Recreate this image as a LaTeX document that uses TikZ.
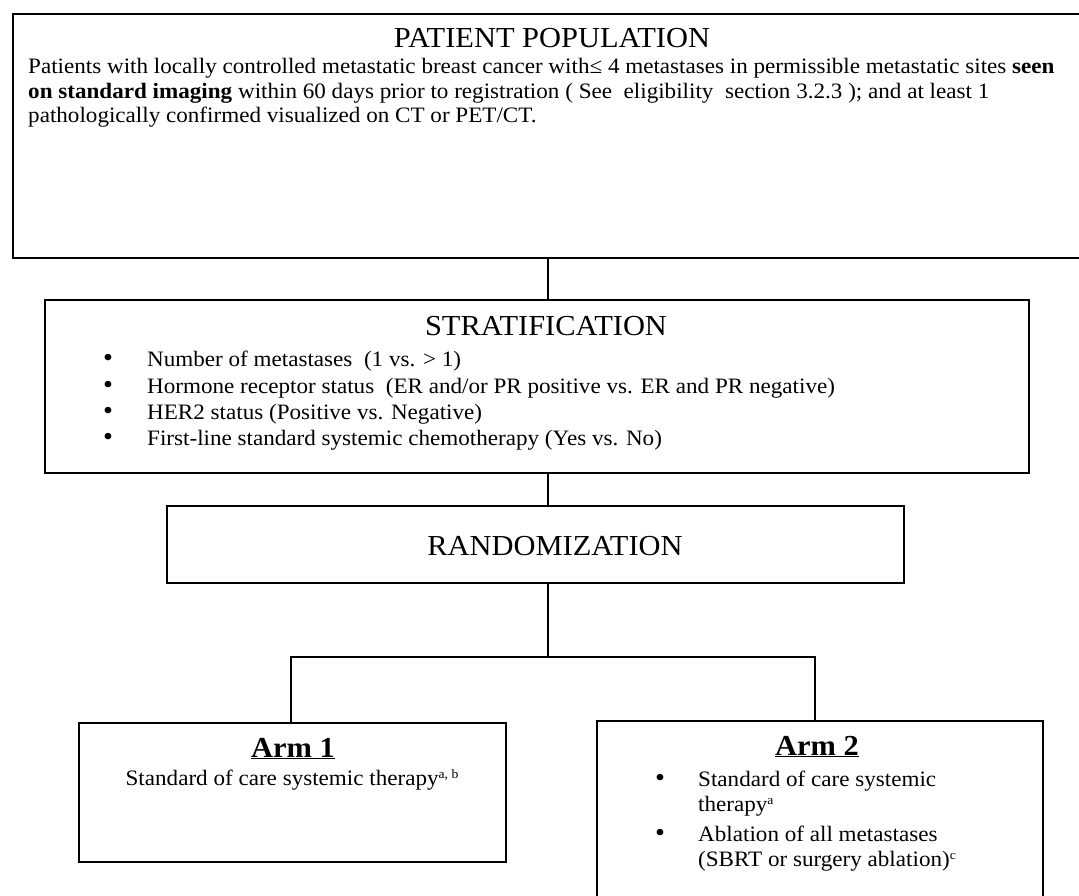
\documentclass[tikz,border=0pt]{standalone}
\usepackage{fontspec}
\setmainfont[FakeStretch=1.05]{Liberation Serif}
\newcommand{\supr}[1]{\raisebox{6.5pt}{\fontsize{13}{13}\selectfont #1}}
\begin{document}
\begin{tikzpicture}[x=1pt,y=-1pt,
  box/.style={draw, line width=1.6pt, inner sep=0pt, anchor=north west},
  conn/.style={draw, line width=1.5pt},
  ttl/.style={font=\fontsize{29}{29}\selectfont, inner sep=0pt, anchor=base},
  ln/.style={font=\fontsize{22}{22}\selectfont, inner sep=0pt, anchor=base west},
  lnc/.style={font=\fontsize{22}{22}\selectfont, inner sep=0pt, anchor=base},
  bul/.style={font=\fontsize{27}{27}\selectfont, inner sep=0pt, anchor=base}]
\useasboundingbox (0,0) rectangle (1079,896);
\clip (0,0) rectangle (1079,896);
% boxes
\node[box, minimum width=1090pt, minimum height=244pt] (pp) at (12,13) {};
\node[box, minimum width=984pt, minimum height=173pt] (strat) at (44,299) {};
\node[box, minimum width=737pt, minimum height=77pt] (rand) at (166,505) {};
\node[box, minimum width=427pt, minimum height=139pt] (arm1) at (78,722) {};
\node[box, minimum width=446pt, minimum height=200pt] (arm2) at (596,720) {};
% connectors
\coordinate (spine) at (548,0);
\coordinate (armAx) at (291,0);
\coordinate (armBx) at (815,0);
\coordinate (fork) at (548,657);
\draw[conn] (pp.south -| spine) -- (strat.north -| spine);
\draw[conn] (strat.south -| spine) -- (rand.north -| spine);
\draw[conn] (rand.south -| spine) -- (fork);
\draw[conn] (arm1.north -| armAx) |- (fork) -| (arm2.north -| armBx);
% patient population
\node[ttl] (ppt) at (552,48) {PATIENT POPULATION};
\node[ln] (pp1) at (28,74) {Patients with locally controlled metastatic breast cancer with≤ 4 metastases in permissible metastatic sites \textbf{seen}};
\node[ln] (pp2) at (28,99) {\textbf{on standard imaging} within 60 days prior to registration ( See\ \ eligibility\ \ section 3.2.3 ); and at least 1};
\node[ln] (pp3) at (28,123) {pathologically confirmed visualized on CT or PET/CT.};
% stratification
\node[ttl] (stt) at (546,335) {STRATIFICATION};
\node[bul] (sb1) at (108,366) {•};
\node[bul] (sb2) at (108,393) {•};
\node[bul] (sb3) at (108,419) {•};
\node[bul] (sb4) at (108,445) {•};
\node[ln] (s1) at (147,366) {Number of metastases\ \ (1 vs. > 1)};
\node[ln] (s2) at (147,393) {Hormone receptor status\ \ (ER and/or PR positive vs. ER and PR negative)};
\node[ln] (s3) at (147,419) {HER2 status (Positive vs. Negative)};
\node[ln] (s4) at (147,445) {First-line standard systemic chemotherapy (Yes vs. No)};
% randomization
\node[ttl] (rt) at (555,555) {RANDOMIZATION};
% arm 1
\node[ttl] (a1t) at (293,757) {\textbf{\underline{Arm 1}}};
\node[lnc] (a1l) at (292,785) {Standard of care systemic therapy\supr{a, b}};
% arm 2
\node[ttl] (a2t) at (817,755) {\textbf{\underline{Arm 2}}};
\node[bul] (ab1) at (660,786) {•};
\node[bul] (ab2) at (660,841) {•};
\node[ln] (a21) at (698,786) {Standard of care systemic};
\node[ln] (a22) at (698,811) {therapy\supr{a}};
\node[ln] (a23) at (698,841) {Ablation of all metastases};
\node[ln] (a24) at (698,866) {(SBRT or surgery ablation)\supr{c}};
\end{tikzpicture}
\end{document}
